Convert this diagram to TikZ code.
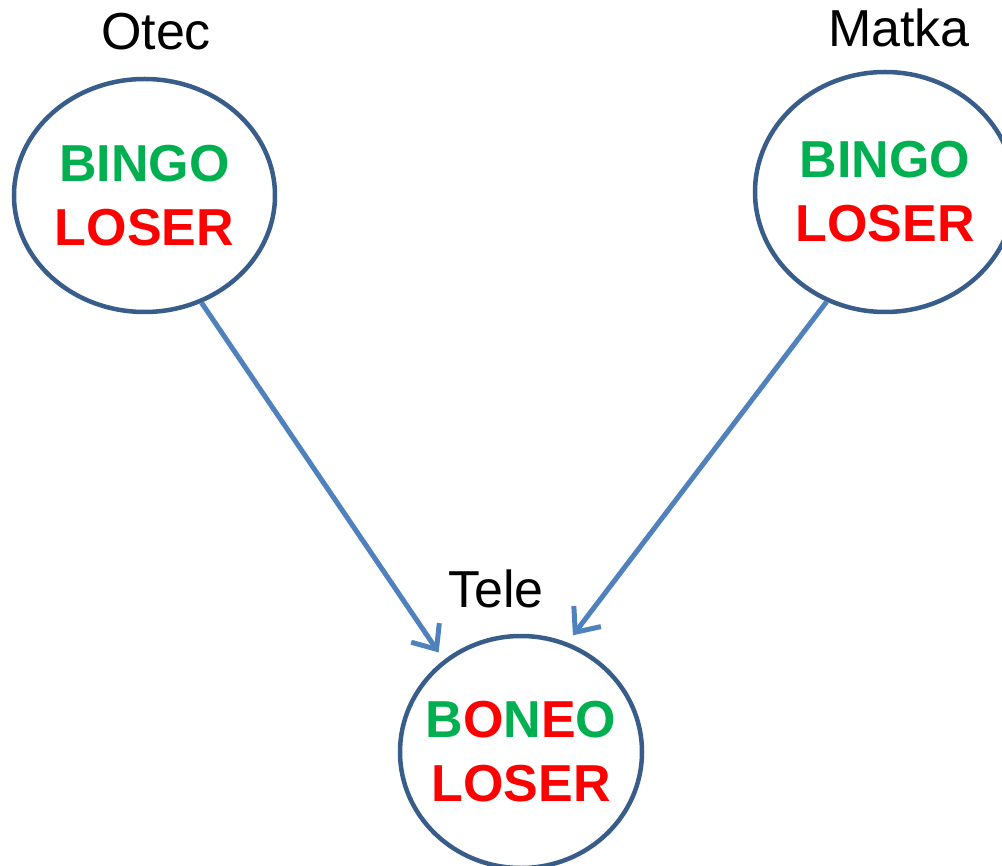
\documentclass[tikz,border=0pt]{standalone}
\usepackage{fontspec}
\setmainfont{Liberation Sans}
\usetikzlibrary{shapes.geometric,arrows.meta}

\definecolor{ringblue}{HTML}{385D8A}
\definecolor{linkblue}{HTML}{4F81BD}
\definecolor{okgreen}{HTML}{00B050}
\definecolor{badred}{HTML}{FF0000}

\tikzset{
  person/.style={ellipse, draw=ringblue, line width=4.5pt, fill=white,
    inner sep=-60pt, align=center,
    font=\fontsize{52}{64}\selectfont\bfseries},
  caption/.style={anchor=base, inner sep=0pt,
    font=\fontsize{52}{60}\selectfont},
  link/.style={draw=linkblue, line width=5pt,
    -{Straight Barb[length=20pt,width=34pt,line width=5pt]},
    shorten >=9pt}
}

\newcommand{\gn}[1]{\textcolor{okgreen}{#1}}
\newcommand{\rd}[1]{\textcolor{badred}{#1}}

\begin{document}
\begin{tikzpicture}[x=1pt,y=-1pt]
  \useasboundingbox (0,0) rectangle (1002,866);

  % parents and child
  \node[person, minimum width=261pt, minimum height=233pt] (otec) at (144.5,195.5)
    {\gn{BINGO}\\\rd{LOSER}};
  \node[person, minimum width=260pt, minimum height=240pt] (matka) at (885,192)
    {\gn{BINGO}\\\rd{LOSER}};
  \node[person, minimum width=242pt, minimum height=232pt] (tele) at (521,752)
    {\gn{B}\rd{O}\gn{N}\rd{E}\gn{O}\\\rd{LOSER}};

  % names above the circles
  \node[caption] (lotec) at (156,50) {Otec};
  \node[caption] (lmatka) at (899,47) {Matka};
  \node[caption] (ltele) at (496,607) {Tele};

  % inheritance arrows
  \draw[link] (otec.-62) -- (tele.130.6);
  \draw[link] (matka.-118) -- (tele.67.3);
\end{tikzpicture}
\end{document}
